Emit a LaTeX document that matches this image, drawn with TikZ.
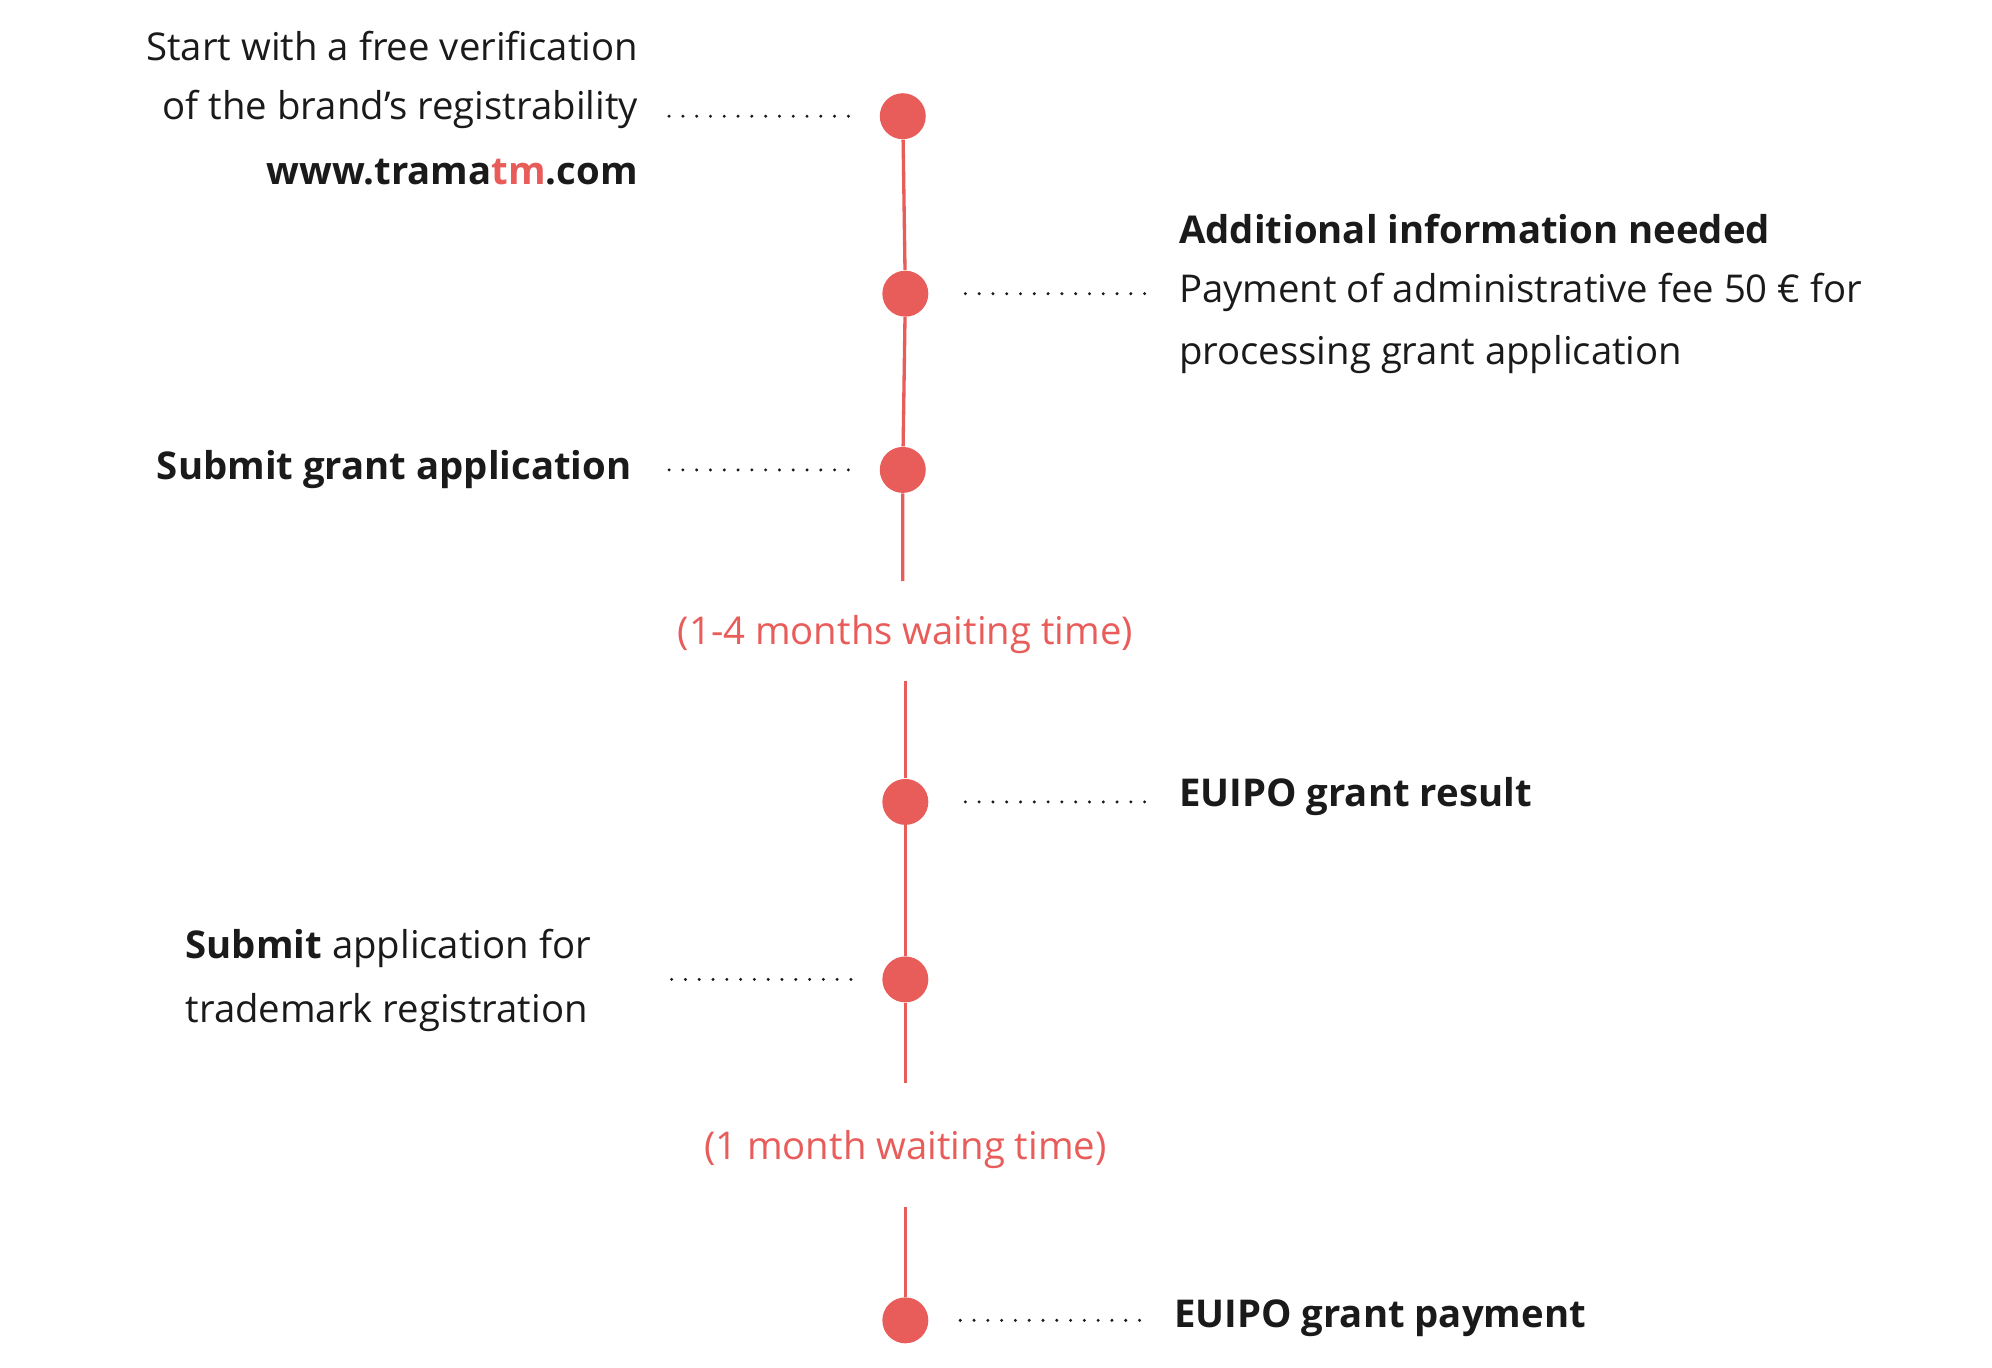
\documentclass[tikz,border=0pt]{standalone}
\usepackage{fontspec}
\setmainfont{Open Sans}
\definecolor{tred}{HTML}{E85C5A}
\definecolor{ttext}{HTML}{1A1A1A}
\begin{document}
\begin{tikzpicture}[x=0.5pt,y=-0.5pt,
  dotn/.style={circle,fill=tred,minimum size=18pt,inner sep=0pt},
  vline/.style={tred,line width=1.3pt},
  dotline/.style={ttext,line width=1.3pt,line cap=round,dash pattern=on 0pt off 5.4pt},
  txt/.style={text=ttext,font=\fontsize{15}{25}\selectfont,inner sep=0pt},
  wait/.style={text=tred,font=\fontsize{15}{25}\selectfont,inner sep=0pt}]
\useasboundingbox (0,0) rectangle (1560,1071);
\node[dotn] (d1) at (707,91) {};
\node[dotn] (d2) at (709,230) {};
\node[dotn] (d3) at (707,368) {};
\node[dotn] (d4) at (709,628) {};
\node[dotn] (d5) at (709,767) {};
\node[dotn] (d6) at (709,1034) {};
\coordinate (l1e) at (707,455);
\coordinate (l2s) at (709,533);
\coordinate (l2e) at (709,848);
\coordinate (l3s) at (709,945);
\draw[vline] (d1) -- (d2) -- (d3) -- (l1e);
\draw[vline] (l2s) -- (d4) -- (d5) -- (l2e);
\draw[vline] (l3s) -- (d6);
\node[wait] (w1) at (709,497) {(1-4 months waiting time)};
\node[wait] (w2) at (709,900) {(1 month waiting time)};
% left texts
\node[txt,anchor=east] (t1a) at (500,36) {Start with a free verification};
\node[txt,anchor=east] (t1b) at (500,86) {of the brand’s registrability};
\node[txt,anchor=east] (t1c) at (500,135) {\textbf{www.trama\textcolor{tred}{tm}.com}};
\node[txt,anchor=east] (t3) at (495,368) {\textbf{Submit grant application}};
\node[txt,anchor=west] (t5a) at (145,743) {\textbf{Submit} application for};
\node[txt,anchor=west] (t5b) at (145,793) {trademark registration};
% right texts
\node[txt,anchor=west] (t2a) at (923,179) {\textbf{Additional information needed}};
\node[txt,anchor=west] (t2b) at (923,229) {Payment of administrative fee 50 € for};
\node[txt,anchor=west] (t2c) at (923,278) {processing grant application};
\node[txt,anchor=west] (t4) at (923,624) {\textbf{EUIPO grant result}};
\node[txt,anchor=west] (t6) at (919,1032) {\textbf{EUIPO grant payment}};
% dotted connectors
\coordinate (a1) at (524,91); \coordinate (b1) at (665,91);
\coordinate (a2) at (756,230); \coordinate (b2) at (898,230);
\coordinate (a3) at (524,368); \coordinate (b3) at (665,368);
\coordinate (a4) at (756,628); \coordinate (b4) at (898,628);
\coordinate (a5) at (526,767); \coordinate (b5) at (667,767);
\coordinate (a6) at (752,1034); \coordinate (b6) at (893,1034);
\foreach \i in {1,...,6}{\draw[dotline] (a\i) -- (b\i);}
\end{tikzpicture}
\end{document}
